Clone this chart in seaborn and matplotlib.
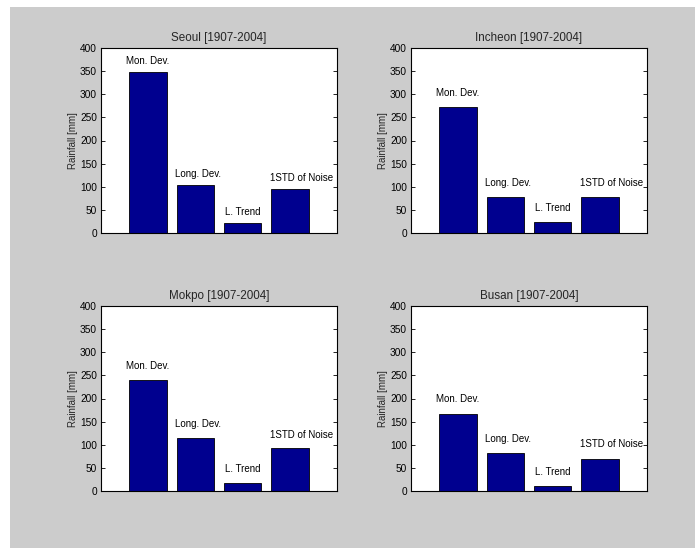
import matplotlib
matplotlib.use("Agg")
import matplotlib.pyplot as plt
import seaborn as sns
from matplotlib.patches import Rectangle

sns.set_theme(style="ticks")
plt.rcParams['font.family'] = ['Liberation Sans', 'DejaVu Sans']

# ---- data ----
stations = ["Seoul", "Incheon", "Mokpo", "Busan"]
period = "[1907-2004]"
categories = ["Mon. Dev.", "Long. Dev.", "L. Trend", "1STD of Noise"]
seoul = [348, 104, 21.5, 94.5]
incheon = [273, 78, 24, 78]
mokpo = [240, 114, 18, 92]
busan = [167, 82.5, 11, 70]
values = [seoul, incheon, mokpo, busan]
yticks = [0, 50, 100, 150, 200, 250, 300, 350, 400]
ylabel = "Rainfall [mm]"

# ---- style / layout ----
bar_color = "#00008F"
label_dx = [-0.46, -0.43, -0.37, -0.42]
label_dy = [23.5, 30, 30, 31]
W, H = 695, 548
axes_px = [(101, 48, 337, 233), (411, 48, 647, 233),
           (101, 306, 337, 491), (411, 306, 647, 491)]

fig = plt.figure(figsize=(W / 100, H / 100), dpi=100)
fig.patch.set_facecolor("white")
fig.patches.append(Rectangle((10 / W, 0), 1 - 10 / W, 1 - 7 / H,
                             transform=fig.transFigure, facecolor="#cccccc",
                             edgecolor="none", zorder=-10))

fs = 7.0
for k, (name, vals) in enumerate(zip(stations, values)):
    x0, y0, x1, y1 = axes_px[k]
    ax = fig.add_axes([x0 / W, 1 - y1 / H, (x1 - x0) / W, (y1 - y0) / H])
    ax.set_facecolor("white")
    sns.barplot(x=categories, y=vals, ax=ax, color=bar_color, width=0.8,
                edgecolor="black", linewidth=0.6, saturation=1)
    for p in ax.patches:
        p.set_facecolor(bar_color)
    ax.set_xlim(-1, 4)
    ax.set_ylim(0, 400)
    ax.set_yticks(yticks)
    ax.set_yticklabels([str(t) for t in yticks], fontsize=fs + 0.3)
    ax.set_xticks([])
    ax.set_xlabel("")
    ax.set_ylabel(ylabel, fontsize=fs, labelpad=1.5)
    ax.set_title(f"{name} {period}", fontsize=8.4, pad=5)
    ax.tick_params(axis="y", direction="in", length=3, width=0.6,
                   right=True, pad=3, colors="black")
    for s in ax.spines.values():
        s.set_visible(True)
        s.set_color("black")
        s.set_linewidth(0.8)
    for i, (c, v) in enumerate(zip(categories, vals)):
        ax.text(i + label_dx[i], v + label_dy[k], c, ha="left", va="center",
                fontsize=fs, color="black")

fig.savefig("out.png", dpi=100, facecolor=fig.get_facecolor())
